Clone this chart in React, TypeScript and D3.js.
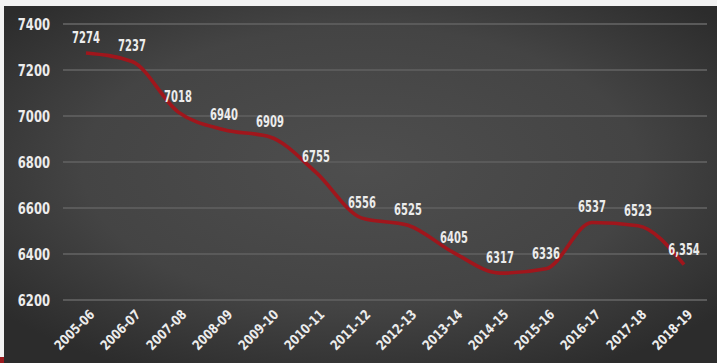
import React from "react";
import * as d3 from "d3";

const years = ["2005-06","2006-07","2007-08","2008-09","2009-10","2010-11","2011-12","2012-13","2013-14","2014-15","2015-16","2016-17","2017-18","2018-19"];
const values = [7274,7237,7018,6940,6909,6755,6556,6525,6405,6317,6336,6537,6523,6354];
const valueLabels = ["7274","7237","7018","6940","6909","6755","6556","6525","6405","6317","6336","6537","6523","6,354"];
const yTicks = [6200,6400,6600,6800,7000,7200,7400];

const W = 717, H = 363;
const FONT = "'DejaVu Sans Condensed', 'Liberation Sans Narrow', sans-serif";

export default function App() {
  const x = d3.scaleBand<string>().domain(years).range([63, 707]);
  const y = d3.scaleLinear().domain([6200, 7400]).range([300, 24]);
  const line = d3.line<number>()
    .x((_, i) => (x(years[i]) as number) + x.bandwidth() / 2)
    .y((d) => y(d))
    .curve(d3.curveMonotoneX);
  return (
    <svg width={W} height={H} style={{ position: "absolute", left: 0, top: 0 }}>
      <defs>
        <radialGradient id="bg" cx="50%" cy="45%" r="65%">
          <stop offset="0%" stopColor="#4e4e4e" />
          <stop offset="60%" stopColor="#444444" />
          <stop offset="100%" stopColor="#2c2c2c" />
        </radialGradient>
      </defs>
      <rect x={0} y={0} width={W} height={H} fill="#f2f2f2" />
      <rect x={4} y={6} width={W - 4} height={H - 6} fill="url(#bg)" />
      <rect x={0} y={357} width={4} height={6} fill="#9b1b1f" />
      {yTicks.map((t) => (
        <g key={t}>
          <line x1={63} x2={707} y1={y(t)} y2={y(t)} stroke="#5a5a5a" strokeWidth={2} />
          <text transform={`translate(50,${y(t)}) scale(0.78,1)`} dy="0.36em" textAnchor="end" fill="#ececec"
            fontFamily={FONT} fontWeight="bold" fontSize={16.5}>{t}</text>
        </g>
      ))}
      <path d={line(values) || ""} fill="none" stroke="#a0161c" strokeWidth={3.6} strokeLinejoin="round" />
      {values.map((v, i) => {
        const cx = (x(years[i]) as number) + x.bandwidth() / 2;
        return (
          <text key={i} transform={`translate(${cx},${y(v) - 10}) scale(0.74,1)`} textAnchor="middle" fill="#ececec"
            fontFamily={FONT} fontWeight="bold" fontSize={15}>{valueLabels[i]}</text>
        );
      })}
      {years.map((yr) => {
        const cx = (x(yr) as number) + x.bandwidth() / 2;
        return (
          <text key={yr} transform={`translate(${cx + 6},${312}) rotate(-45) scale(0.9,1)`} textAnchor="end"
            dy="0.36em" fill="#ececec" fontFamily={FONT} fontWeight="bold" fontSize={13.5}>{yr}</text>
        );
      })}
    </svg>
  );
}
